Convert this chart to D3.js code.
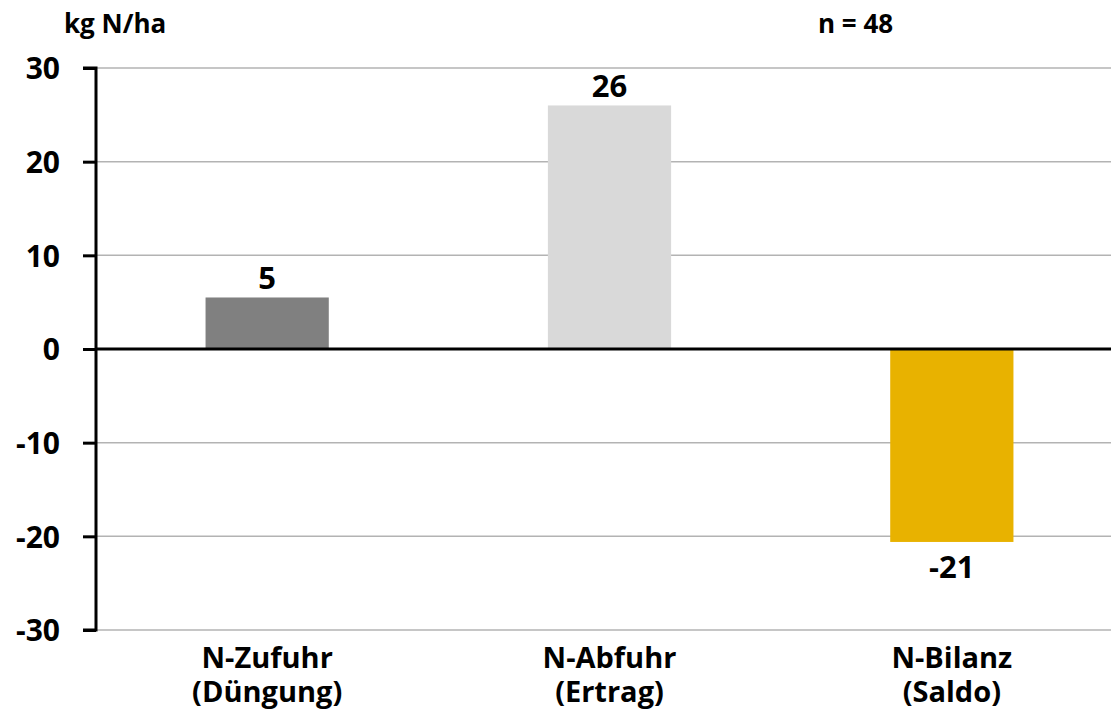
<!DOCTYPE html>
<html><head><meta charset="utf-8">
<script src="https://cdn.jsdelivr.net/npm/d3@7"></script>
<style>body{margin:0;background:#fff;}text{font-family:"Open Sans",Lato,sans-serif;font-weight:bold;fill:#000;}</style>
</head><body><svg id="c" width="1111" height="710"></svg>
<script>
const categories = [["N-Zufuhr","(Düngung)"],["N-Abfuhr","(Ertrag)"],["N-Bilanz","(Saldo)"]];
const values = [5.5, 26.0, -20.6];
const valueLabels = ["5","26","-21"];
const colors = ["#808080","#d9d9d9","#e8b200"];
const yTicks = [-30,-20,-10,0,10,20,30];

(function(){
const svg = d3.select("#c");
const pLeft = 96, pRight = 1123, pTop = 68, pBottom = 630;
const x = d3.scaleBand().domain(d3.range(categories.length)).range([pLeft, pRight]).paddingInner(0.64).paddingOuter(0.32);
const y = d3.scaleLinear().domain([-30,30]).range([pBottom, pTop]);

svg.append("g").selectAll("line").data(yTicks.filter(d=>d!==0)).join("line")
  .attr("x1",pLeft).attr("x2",1111).attr("y1",d=>y(d)).attr("y2",d=>y(d))
  .attr("stroke","#b3b3b3").attr("stroke-width",1.5);

svg.append("g").selectAll("rect").data(values).join("rect")
  .attr("x",(d,i)=>x(i)).attr("width",x.bandwidth())
  .attr("y",d=>y(Math.max(0,d))).attr("height",d=>Math.abs(y(d)-y(0)))
  .attr("fill",(d,i)=>colors[i]);

svg.append("line").attr("x1",pLeft).attr("x2",1111).attr("y1",y(0)).attr("y2",y(0))
  .attr("stroke","#000").attr("stroke-width",3);

const ax = svg.append("g").attr("transform",`translate(${pLeft},0)`)
  .call(d3.axisLeft(y).tickValues(yTicks).tickFormat(d=>String(d)).tickSize(13).tickPadding(23));
ax.select(".domain").attr("stroke","#000").attr("stroke-width",3).attr("d",`M-13,${pTop}H0V${pBottom}H-13`);
ax.selectAll(".tick line").attr("stroke","#000").attr("stroke-width",3);
ax.selectAll(".tick text").style("font-size","30px").style("font-family","'Open Sans',sans-serif").style("font-weight","bold").attr("dy","0.36em");

svg.append("g").selectAll("text").data(values).join("text")
  .attr("x",(d,i)=>x(i)+x.bandwidth()/2)
  .attr("y",d=> d>=0 ? y(d)-8 : y(d)+36)
  .attr("text-anchor","middle").style("font-size","31px")
  .text((d,i)=>valueLabels[i]);

const cg = svg.append("g").selectAll("text").data(categories).join("text")
  .attr("x",(d,i)=>x(i)+x.bandwidth()/2).attr("y",668)
  .attr("text-anchor","middle").style("font-size","29px");
cg.selectAll("tspan").data(d=>d).join("tspan")
  .attr("x",function(){return this.parentNode.getAttribute("x");})
  .attr("dy",(d,i)=>i===0?0:34).text(d=>d);

svg.append("text").attr("x",64).attr("y",33).style("font-size","26px").text("kg N/ha");
svg.append("text").attr("x",818).attr("y",33).style("font-size","26px").text("n = 48");
})();
</script></body></html>
